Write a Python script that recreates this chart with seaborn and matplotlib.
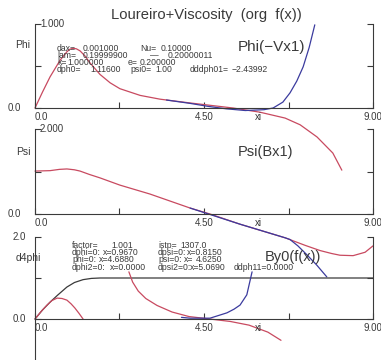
import seaborn as sns
import matplotlib.pyplot as plt

sns.set_style('white')
plt.rcParams['font.family'] = ['Liberation Sans', 'DejaVu Sans']

# panel 1: Phi
phi_x = [0, 0.2, 0.4, 0.67, 0.85, 0.93, 1.01, 1.1, 1.2, 1.33, 1.46, 1.73, 2.0, 2.26, 2.8, 3.33,
         4.13, 4.8, 5.27, 5.99, 6.66, 7.06, 7.51, 7.93, 8.17]
phi_y = [0, 0.19, 0.37, 0.57, 0.67, 0.70, 0.71, 0.705, 0.68, 0.62, 0.54, 0.40, 0.30, 0.23, 0.15,
         0.105, 0.06, 0.025, 0.0, -0.05, -0.12, -0.20, -0.345, -0.536, -0.74]
phi_v_x = [3.5, 4.13, 4.6, 5.1, 5.6, 6.1, 6.34, 6.6, 6.79, 6.97, 7.14, 7.3, 7.45]
phi_v_y = [0.095, 0.055, 0.02, -0.01, -0.03, -0.02, 0.0, 0.07, 0.18, 0.32, 0.49, 0.72, 0.99]

# panel 2: Psi
psi_x = [0, 0.4, 0.65, 0.85, 1.05, 1.2, 1.45, 1.73, 2.26, 3.06, 4.13, 4.66, 5.46, 6.66, 7.2,
         7.59, 7.9, 8.12, 8.47, 8.79, 9.0]
psi_y = [1.01, 1.02, 1.05, 1.06, 1.04, 1.01, 0.93, 0.85, 0.68, 0.47, 0.14, 0.0, -0.24, -0.56,
         -0.74, -0.86, -0.93, -0.97, -0.98, -0.9, -0.75]
psi_b_x = [4.13, 5.46, 6.66, 6.79, 7.0, 7.24, 7.5, 7.77]
psi_b_y = [0.14, -0.24, -0.56, -0.6, -0.75, -0.96, -1.2, -1.48]

# panel 3: d4phi
d4_x = [0, 0.2, 0.4, 0.6, 0.85, 1.05, 1.28, 1.5, 1.73, 9.0]
d4_y = [0, 0.22, 0.41, 0.58, 0.78, 0.89, 0.96, 0.99, 1.0, 1.0]
hump_x = [0, 0.16, 0.32, 0.45, 0.59, 0.72, 0.85, 0.96, 1.06, 1.17, 1.28]
hump_y = [0, 0.18, 0.34, 0.45, 0.51, 0.50, 0.46, 0.37, 0.27, 0.14, 0]
d4r_x = [2.5, 2.6, 2.75, 2.95, 3.25, 3.65, 4.1, 4.65, 5.2, 5.7, 6.2, 6.55]
d4r_y = [1.15, 0.9, 0.68, 0.5, 0.33, 0.17, 0.06, 0.0, -0.06, -0.15, -0.32, -0.52]
d4b_x = [3.9, 4.13, 4.66, 5.11, 5.3, 5.46, 5.64, 5.78]
d4b_y = [0.04, 0.02, 0.02, 0.15, 0.24, 0.34, 0.59, 1.15]

W, H = 381, 360
RED = '#c84a60'
BLUE = '#3b3b9e'
INK = '#3a3a3a'

fig = plt.figure(figsize=(W / 100, H / 100), dpi=100)
fig.patch.set_facecolor('white')


def add_ax(left, top, right, bottom):
    return fig.add_axes([left / W, 1 - bottom / H, (right - left) / W, (bottom - top) / H])


def ftext(px, py, s, size=6.2, ha='left', va='center', **kw):
    fig.text(px / W, 1 - py / H, s, fontsize=size, ha=ha, va=va, color=INK, **kw)


def style(ax, ymax):
    ax.set_xlim(0, 9)
    ax.set_ylim(0, ymax)
    ax.patch.set_visible(False)
    ax.spines['top'].set_visible(False)
    for s in ['left', 'bottom', 'right']:
        ax.spines[s].set_color(INK)
        ax.spines[s].set_linewidth(0.8)
    ax.set_xticks([0, 2.25, 4.5, 6.75, 9])
    ax.set_xticklabels(['0.0', '', '4.50', '', '9.00'])
    ax.set_yticks([0, ymax / 2, ymax])
    ax.set_yticklabels([])
    ax.tick_params(direction='in', length=4, width=0.8, colors=INK, labelcolor=INK,
                   labelsize=7, pad=3, left=True, right=True, bottom=True)
    ax.get_xticklabels()[0].set_horizontalalignment('left')
    ax.set_xlabel('')
    ax.set_ylabel('')


def curve(ax, x, y, color):
    sns.lineplot(x=x, y=y, ax=ax, color=color, lw=0.9, clip_on=False,
                 sort=False, estimator=None)


ax1 = add_ax(35, 24, 373, 108)
ax2 = add_ax(35, 129, 373, 214)
ax3 = add_ax(35, 237, 373, 319)

curve(ax1, phi_x, phi_y, RED)
curve(ax1, phi_v_x, phi_v_y, BLUE)
curve(ax2, psi_x, psi_y, RED)
curve(ax2, psi_b_x, psi_b_y, BLUE)
curve(ax3, d4_x, d4_y, INK)
curve(ax3, hump_x, hump_y, RED)
curve(ax3, d4r_x, d4r_y, RED)
curve(ax3, d4b_x, d4b_y, BLUE)

style(ax1, 1.0)
style(ax2, 2.0)
style(ax3, 2.0)
ax3.plot([0, 0], [0, -0.5], transform=ax3.transAxes, color=INK, lw=0.8, clip_on=False)

# axis texts
ftext(206, 15, 'Loureiro+Viscosity  (org  f(x))', size=10.6, ha='center')
ftext(21, 108, '0.0', size=7, ha='right')
ftext(40, 24, '1.000', size=7)
ftext(15, 45, 'Phi', size=7.5)
ftext(258, 117, 'xi', size=7, ha='center')
ftext(21, 214, '0.0', size=7, ha='right')
ftext(40, 129, '2.000', size=7)
ftext(16, 152, 'Psi', size=7.5)
ftext(258, 223, 'xi', size=7, ha='center')
ftext(26, 319, '0.0', size=7, ha='right')
ftext(26, 237, '2.0', size=7, ha='right')
ftext(16, 258, 'd4phi', size=7.5)
ftext(258, 328, 'xi', size=7, ha='center')

ftext(238, 47, 'Phi(\u2212Vx1)', size=11)
ftext(238, 152, 'Psi(Bx1)', size=10.5)
ftext(265, 257, 'By0(f(x))', size=10.5)

# parameter block, panel 1
ftext(57, 48.5, 'dax=')
ftext(83, 48.5, '0.001000')
ftext(140, 48.5, 'Nu=')
ftext(161, 48.5, '0.10000')
ftext(57, 55.5, 'lam=')
ftext(83, 55.5, '0.19999900')
ftext(150, 55.5, '\u2014')
ftext(168, 55.5, '0.20000011')
ftext(57, 62.5, 'k=')
ftext(67, 62.5, '1.000000')
ftext(128, 62.5, 'e=')
ftext(140, 62.5, '0.200000')
ftext(57, 69.5, 'dph0=')
ftext(90, 69.5, '1.11600')
ftext(130, 69.5, 'psi0=')
ftext(155, 69.5, '1.00')
ftext(190, 69.5, 'dddph01=')
ftext(232, 69.5, '\u22122.43992')

# parameter block, panel 3
ftext(72, 245, 'factor=')
ftext(111, 245, '1.001')
ftext(158, 245, 'istp=')
ftext(180, 245, '1307.0')
ftext(72, 252.5, 'dphi=0:')
ftext(103, 252.5, 'x=0.9670')
ftext(158, 252.5, 'dpsi=0:')
ftext(187, 252.5, 'x=0.8150')
ftext(72, 260, 'phi=0:')
ftext(99, 260, 'x=4.6880')
ftext(158, 260, 'psi=0:')
ftext(184, 260, 'x=')
ftext(196, 260, '4.6250')
ftext(72, 267.5, 'dphi2=0:')
ftext(110, 267.5, 'x=0.0000')
ftext(158, 267.5, 'dpsi2=0:')
ftext(190, 267.5, 'x=5.0690')
ftext(234, 267.5, 'ddph11=0.0000')

fig.savefig('out.png', dpi=100, facecolor='white')
